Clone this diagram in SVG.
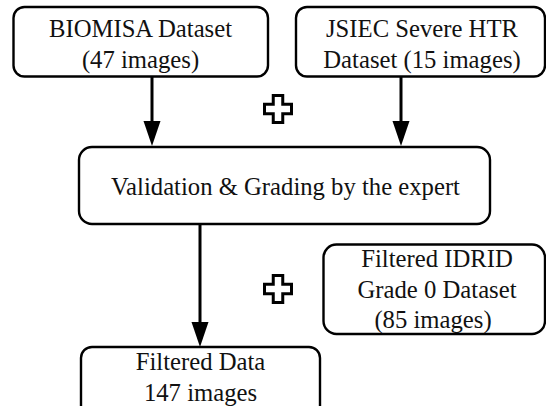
<svg xmlns="http://www.w3.org/2000/svg" width="546" height="406" viewBox="0 0 546 406">
  <style>
    .box { fill: #fff; stroke: #000; stroke-width: 2.4; }
    .lbl { font-family: "Liberation Serif", "Times New Roman", serif; font-size: 24.7px; fill: #111; text-anchor: middle; }
    .edge { stroke: #000; stroke-width: 3; fill: none; }
    .plus { fill: #fff; stroke: #000; stroke-width: 3; stroke-linejoin: miter; }
  </style>
  <defs>
    <marker id="ah" markerUnits="userSpaceOnUse" markerWidth="26" markerHeight="18" viewBox="0 -9 26 18" refX="0" refY="0" orient="auto">
      <path d="M0,-8.5 L25,0 L0,8.5 Z" fill="#000"/>
    </marker>
    <path id="cross" d="M-4.75,-13.5 H4.75 V-4.75 H13.5 V4.75 H4.75 V13.5 H-4.75 V4.75 H-13.5 V-4.75 H-4.75 Z"/>
  </defs>
  <rect width="546" height="406" fill="#fff"/>

  <g id="connectors">
    <line class="edge" x1="152" y1="77" x2="152" y2="121" marker-end="url(#ah)"/>
    <line class="edge" x1="401" y1="77" x2="401" y2="121" marker-end="url(#ah)"/>
    <line class="edge" x1="200" y1="224" x2="200" y2="322" marker-end="url(#ah)"/>
  </g>

  <g id="biomisa">
    <rect class="box" x="13.5" y="7" width="254.5" height="69.5" rx="11"/>
    <text class="lbl" x="140.5" y="37">BIOMISA Dataset</text>
    <text class="lbl" x="140.5" y="68">(47 images)</text>
  </g>

  <g id="jsiec">
    <rect class="box" x="296" y="7" width="249" height="69.5" rx="11"/>
    <text class="lbl" x="422" y="37">JSIEC Severe HTR</text>
    <text class="lbl" x="422" y="68">Dataset (15 images)</text>
  </g>

  <g id="plus1">
    <use href="#cross" class="plus" transform="translate(278,109)"/>
  </g>

  <g id="validation">
    <rect class="box" x="79" y="147" width="411" height="77" rx="13"/>
    <text class="lbl" x="285.5" y="195">Validation &amp; Grading by the expert</text>
  </g>

  <g id="plus2">
    <use href="#cross" class="plus" transform="translate(278,289)"/>
  </g>

  <g id="idrid">
    <rect class="box" x="323.5" y="244.5" width="221.5" height="89.5" rx="13"/>
    <text class="lbl" x="437" y="267">Filtered IDRID</text>
    <text class="lbl" x="437" y="298">Grade 0 Dataset</text>
    <text class="lbl" x="433" y="328">(85 images)</text>
  </g>

  <g id="filtered">
    <rect class="box" x="81" y="347" width="239" height="70" rx="11"/>
    <text class="lbl" x="200.5" y="370">Filtered Data</text>
    <text class="lbl" x="200.5" y="401">147 images</text>
  </g>
</svg>
